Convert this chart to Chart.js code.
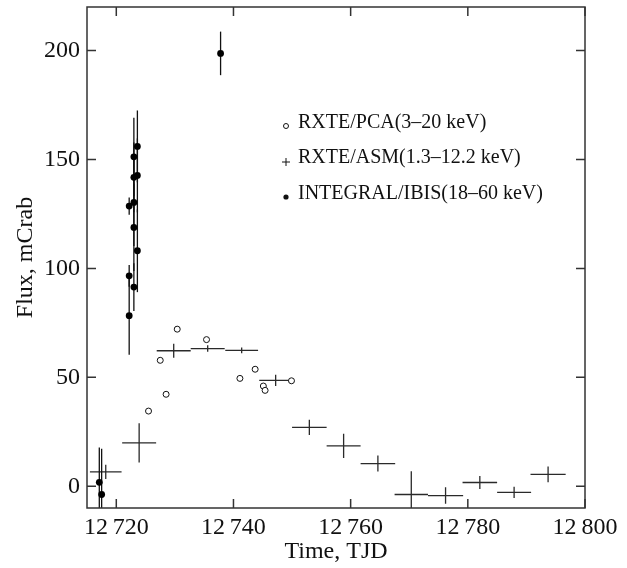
<!DOCTYPE html>
<html>
<head>
<meta charset="utf-8">
<script src="https://cdn.jsdelivr.net/npm/chart.js@4.4.1/dist/chart.umd.min.js"></script>
<style>
  html, body { margin: 0; padding: 0; background: #fff; }
  canvas { display: block; }
</style>
</head>
<body>
<canvas id="lightCurve" width="627" height="568"></canvas>
<script>
// RXTE/PCA (3-20 keV)
const pcaTime = [12725.5, 12727.5, 12728.5, 12730.4, 12735.4, 12741.1, 12743.7, 12745.1, 12745.4, 12749.9];
const pcaFlux = [34.5, 57.8, 42.2, 72.1, 67.3, 49.5, 53.7, 46.0, 44.0, 48.4];
const pcaErr  = [1.2, 1.2, 1.2, 1.2, 1.2, 1.2, 1.2, 1.2, 1.2, 1.2];

// RXTE/ASM (1.3-12.2 keV), binned
const asmTime = [12718.2, 12723.9, 12729.8, 12735.6, 12741.4, 12747.2, 12752.95, 12758.8, 12764.65, 12770.35, 12776.2, 12782.05, 12787.9, 12793.7];
const asmBin  = [2.7, 2.9, 2.9, 2.9, 2.8, 2.8, 2.95, 2.9, 2.95, 2.85, 3.0, 2.95, 2.9, 3.0];
const asmFlux = [6.6, 19.9, 62.2, 63.2, 62.4, 48.6, 27.0, 18.5, 10.4, -3.8, -4.3, 1.7, -2.8, 5.4];
const asmErr  = [3.3, 9.0, 3.2, 1.5, 1.3, 2.6, 3.5, 5.6, 3.7, 10.7, 3.8, 3.0, 2.6, 3.6];

// INTEGRAL/IBIS (18-60 keV)
const ibisTime = [12717.1, 12717.5, 12722.2, 12722.2, 12722.2, 12723.0, 12723.0, 12723.0, 12723.0, 12723.0, 12723.6, 12723.6, 12723.6, 12737.8];
const ibisFlux = [1.8, -3.8, 78.3, 96.6, 128.6, 91.4, 118.8, 130.3, 141.8, 151.2, 108.1, 142.7, 156.0, 198.7];
const ibisErr  = [16, 21, 18, 5, 4, 11, 20, 20, 16, 18, 19, 17, 16.5, 10];

const xTicks = [12720, 12740, 12760, 12780, 12800];
const yTicks = [0, 50, 100, 150, 200];

const legendLabels = ['RXTE/PCA(3\u201320 keV)', 'RXTE/ASM(1.3\u201312.2 keV)', 'INTEGRAL/IBIS(18\u201360 keV)'];

const serif = '"Liberation Serif", "Times New Roman", serif';
const ink = '#111';

const toPoints = (xs, ys) => xs.map((x, i) => ({ x: x, y: ys[i] }));

// error bars drawn under the markers, clipped to the plot box
const errorBars = {
    id: 'errorBars',
    beforeDatasetsDraw(chart) {
        const { ctx, chartArea: a, scales: { x, y } } = chart;
        ctx.save();
        ctx.beginPath();
        ctx.rect(a.left, a.top, a.right - a.left, a.bottom - a.top);
        ctx.clip();
        chart.data.datasets.forEach(ds => {
            ctx.strokeStyle = ds.barColor;
            ctx.lineWidth = ds.barWidth;
            ds.data.forEach((p, i) => {
                const px = x.getPixelForValue(p.x);
                const py = y.getPixelForValue(p.y);
                ctx.beginPath();
                if (ds.yErr) {
                    ctx.moveTo(px, y.getPixelForValue(p.y - ds.yErr[i]));
                    ctx.lineTo(px, y.getPixelForValue(p.y + ds.yErr[i]));
                }
                if (ds.xErr) {
                    ctx.moveTo(x.getPixelForValue(p.x - ds.xErr[i]), py);
                    ctx.lineTo(x.getPixelForValue(p.x + ds.xErr[i]), py);
                }
                ctx.stroke();
            });
        });
        ctx.restore();
    }
};

// box with inward ticks on all four sides
const frame = {
    id: 'frame',
    afterDatasetsDraw(chart) {
        const { ctx, chartArea: a, scales: { x, y } } = chart;
        const len = 9;
        ctx.save();
        ctx.strokeStyle = '#333';
        ctx.lineWidth = 1.5;
        ctx.strokeRect(a.left, a.top, a.right - a.left, a.bottom - a.top);
        ctx.beginPath();
        xTicks.forEach(v => {
            const px = x.getPixelForValue(v);
            ctx.moveTo(px, a.bottom); ctx.lineTo(px, a.bottom - len);
            ctx.moveTo(px, a.top); ctx.lineTo(px, a.top + len);
        });
        yTicks.forEach(v => {
            const py = y.getPixelForValue(v);
            ctx.moveTo(a.left, py); ctx.lineTo(a.left + len, py);
            ctx.moveTo(a.right, py); ctx.lineTo(a.right - len, py);
        });
        ctx.stroke();
        ctx.restore();
    }
};

// legend inside the plot
const keyBox = {
    id: 'keyBox',
    afterDraw(chart) {
        const ctx = chart.ctx;
        const tx = 298, sx = 286;
        const rows = [123, 158, 194];
        ctx.save();
        ctx.fillStyle = ink;
        ctx.strokeStyle = ink;
        ctx.font = '20px ' + serif;
        ctx.textBaseline = 'middle';
        legendLabels.forEach((t, i) => ctx.fillText(t, tx, rows[i]));
        ctx.lineWidth = 1;
        ctx.beginPath();
        ctx.arc(sx, rows[0] + 3, 2.5, 0, Math.PI * 2);
        ctx.stroke();
        ctx.beginPath();
        ctx.moveTo(sx - 4, rows[1] + 4); ctx.lineTo(sx + 4, rows[1] + 4);
        ctx.moveTo(sx, rows[1]); ctx.lineTo(sx, rows[1] + 8);
        ctx.stroke();
        ctx.beginPath();
        ctx.arc(sx, rows[2] + 3, 2.6, 0, Math.PI * 2);
        ctx.fill();
        ctx.restore();
    }
};

const tickFont = { family: serif, size: 24 };

new Chart(document.getElementById('lightCurve').getContext('2d'), {
    type: 'scatter',
    data: {
        datasets: [
            {
                label: legendLabels[1],
                data: toPoints(asmTime, asmFlux),
                xErr: asmBin,
                yErr: asmErr,
                barColor: '#2a2a2a',
                barWidth: 1.3,
                pointRadius: 0
            },
            {
                label: legendLabels[0],
                data: toPoints(pcaTime, pcaFlux),
                yErr: pcaErr,
                barColor: '#111',
                barWidth: 1,
                pointRadius: 3,
                pointBackgroundColor: '#fff',
                pointBorderColor: '#111',
                pointBorderWidth: 1
            },
            {
                label: legendLabels[2],
                data: toPoints(ibisTime, ibisFlux),
                yErr: ibisErr,
                barColor: '#111',
                barWidth: 1.3,
                pointRadius: 3.4,
                pointBackgroundColor: '#000',
                pointBorderColor: '#000',
                pointBorderWidth: 0
            }
        ]
    },
    options: {
        responsive: false,
        animation: false,
        events: [],
        clip: false,
        layout: { padding: { top: 7, right: 42, bottom: 0, left: 0 } },
        plugins: {
            legend: { display: false },
            tooltip: { enabled: false }
        },
        scales: {
            x: {
                type: 'linear',
                min: 12715,
                max: 12800,
                afterBuildTicks: s => { s.ticks = xTicks.map(v => ({ value: v })); },
                afterFit: s => { s.height = 60; s.paddingLeft = 0; s.paddingRight = 0; },
                grid: { display: false, drawTicks: false },
                border: { display: false },
                ticks: {
                    font: tickFont,
                    color: ink,
                    padding: 5,
                    maxRotation: 0,
                    autoSkip: false,
                    callback: v => { const s = String(v); return s.slice(0, 2) + '\u2009' + s.slice(2); }
                },
                title: {
                    display: true,
                    text: 'Time, TJD',
                    font: { family: serif, size: 24 },
                    color: ink,
                    padding: { top: 0, bottom: 2 }
                }
            },
            y: {
                type: 'linear',
                min: -10,
                max: 220,
                afterBuildTicks: s => { s.ticks = yTicks.map(v => ({ value: v })); },
                afterFit: s => { s.width = 87; s.paddingTop = 0; s.paddingBottom = 0; },
                grid: { display: false, drawTicks: false },
                border: { display: false },
                ticks: { font: tickFont, color: ink, padding: 7 },
                title: {
                    display: true,
                    text: 'Flux, mCrab',
                    font: { family: serif, size: 24 },
                    color: ink,
                    padding: { top: 11, bottom: 0 }
                }
            }
        }
    },
    plugins: [errorBars, frame, keyBox]
});
</script>
</body>
</html>
